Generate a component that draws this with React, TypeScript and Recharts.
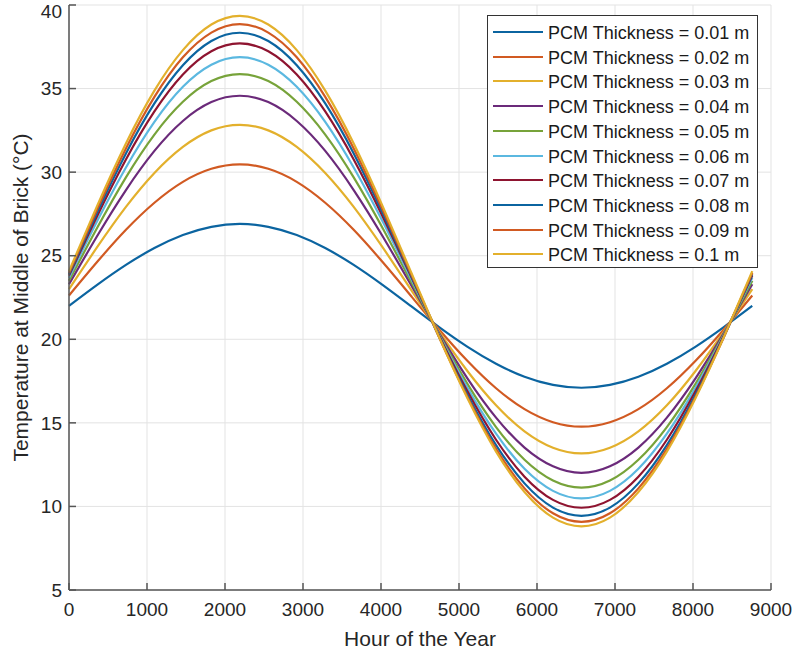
import React from 'react';
import {
  LineChart,
  Line,
  XAxis,
  YAxis,
  CartesianGrid,
} from 'recharts';

// hours sampled along the year (x axis)
const hours = [
  0, 365, 730, 1095, 1460, 1825, 2190, 2555, 2920, 3285, 3650, 4015, 4380,
  4745, 5110, 5475, 5840, 6205, 6570, 6935, 7300, 7665, 8030, 8395, 8760,
];

const thicknesses = ['0.01', '0.02', '0.03', '0.04', '0.05', '0.06', '0.07', '0.08', '0.09', '0.1'];

// temperature, one array per PCM thickness
const t001 = [22.00, 23.27, 24.45, 25.46, 26.24, 26.73, 26.90, 26.73, 26.24, 25.46, 24.45, 23.27, 22.00, 20.73, 19.55, 18.54, 17.76, 17.27, 17.10, 17.27, 17.76, 18.54, 19.55, 20.73, 22.00];
const t002 = [22.62, 24.65, 26.55, 28.17, 29.42, 30.20, 30.47, 30.20, 29.42, 28.17, 26.55, 24.65, 22.62, 20.59, 18.70, 17.07, 15.82, 15.04, 14.77, 15.04, 15.82, 17.07, 18.70, 20.59, 22.62];
const t003 = [23.00, 25.54, 27.92, 29.95, 31.51, 32.50, 32.83, 32.50, 31.51, 29.95, 27.92, 25.54, 23.00, 20.46, 18.09, 16.05, 14.49, 13.51, 13.17, 13.51, 14.49, 16.05, 18.09, 20.46, 23.00];
const t004 = [23.29, 26.21, 28.93, 31.27, 33.06, 34.19, 34.57, 34.19, 33.06, 31.27, 28.93, 26.21, 23.29, 20.37, 17.65, 15.31, 13.52, 12.40, 12.01, 12.40, 13.52, 15.31, 17.65, 20.37, 23.29];
const t005 = [23.50, 26.70, 29.69, 32.25, 34.21, 35.45, 35.87, 35.45, 34.21, 32.25, 29.69, 26.70, 23.50, 20.30, 17.32, 14.75, 12.79, 11.55, 11.13, 11.55, 12.79, 14.75, 17.32, 20.30, 23.50];
const t006 = [23.68, 27.10, 30.28, 33.01, 35.11, 36.43, 36.88, 36.43, 35.11, 33.01, 30.28, 27.10, 23.68, 20.26, 17.08, 14.35, 12.25, 10.93, 10.48, 10.93, 12.25, 14.35, 17.08, 20.26, 23.68];
const t007 = [23.81, 27.41, 30.76, 33.63, 35.84, 37.23, 37.70, 37.23, 35.84, 33.63, 30.76, 27.41, 23.81, 20.22, 16.87, 13.99, 11.78, 10.39, 9.92, 10.39, 11.78, 13.99, 16.87, 20.22, 23.81];
const t008 = [23.89, 27.63, 31.12, 34.11, 36.40, 37.85, 38.34, 37.85, 36.40, 34.11, 31.12, 27.63, 23.89, 20.15, 16.67, 13.67, 11.38, 9.93, 9.44, 9.93, 11.38, 13.67, 16.67, 20.15, 23.89];
const t009 = [23.97, 27.82, 31.42, 34.50, 36.87, 38.35, 38.86, 38.35, 36.87, 34.50, 31.42, 27.82, 23.97, 20.12, 16.53, 13.44, 11.08, 9.59, 9.08, 9.59, 11.08, 13.44, 16.53, 20.12, 23.97];
const t010 = [24.08, 28.03, 31.72, 34.88, 37.30, 38.83, 39.35, 38.83, 37.30, 34.88, 31.72, 28.03, 24.08, 20.13, 16.45, 13.28, 10.86, 9.33, 8.81, 9.33, 10.86, 13.28, 16.45, 20.13, 24.08];

const series = [t001, t002, t003, t004, t005, t006, t007, t008, t009, t010];

const xTicks = [0, 1000, 2000, 3000, 4000, 5000, 6000, 7000, 8000, 9000];
const yTicks = [5, 10, 15, 20, 25, 30, 35, 40];

const colors = [
  '#0b64a0', '#d15a22', '#e3b02c', '#6b2a7a', '#77a33a',
  '#5bb8e0', '#8e1430', '#0b64a0', '#d15a22', '#e3b02c',
];

const data = hours.map((h, i) => {
  const row: Record<string, number> = { hour: h };
  series.forEach((s, k) => {
    row['s' + k] = s[i];
  });
  return row;
});

const FONT = '"Liberation Sans", Arial, Helvetica, sans-serif';

const XLabel = (props: any) => {
  const { viewBox } = props;
  return (
    <text
      x={viewBox.x + viewBox.width / 2}
      y={viewBox.y + 56}
      textAnchor="middle"
      fontSize={21}
      fontFamily={FONT}
      fill="#262626"
    >
      Hour of the Year
    </text>
  );
};

const YLabel = (props: any) => {
  const { viewBox } = props;
  const cx = viewBox.x + 28;
  const cy = viewBox.y + viewBox.height / 2;
  return (
    <text
      x={cx}
      y={cy}
      transform={`rotate(-90, ${cx}, ${cy})`}
      textAnchor="middle"
      fontSize={21}
      fontFamily={FONT}
      fill="#262626"
    >
      Temperature at Middle of Brick (°C)
    </text>
  );
};

export default function App() {
  const rowH = 24.7;
  return (
    <div style={{ position: 'relative', width: 796, height: 650, background: '#fff' }}>
      <style>{`body { margin: 0; }`}</style>
      <LineChart
        width={796}
        height={650}
        data={data}
        margin={{ top: 5, right: 25, bottom: 0, left: 0 }}
      >
        <CartesianGrid stroke="#e3e3e3" strokeWidth={1} />
        <XAxis
          dataKey="hour"
          type="number"
          domain={[0, 9000]}
          ticks={xTicks}
          height={60}
          tickSize={-7}
          tickMargin={20}
          axisLine={{ stroke: '#555', strokeWidth: 1.5 }}
          tickLine={{ stroke: '#555', strokeWidth: 1.5 }}
          tick={{ fontSize: 19, fill: '#262626', fontFamily: FONT }}
          label={<XLabel />}
        />
        <YAxis
          type="number"
          domain={[5, 40]}
          ticks={yTicks}
          width={69}
          tickSize={-7}
          tickMargin={14}
          axisLine={{ stroke: '#555', strokeWidth: 1.5 }}
          tickLine={{ stroke: '#555', strokeWidth: 1.5 }}
          tick={{ fontSize: 19, fill: '#262626', fontFamily: FONT }}
          label={<YLabel />}
        />
        {series.map((_, k) => (
          <Line
            key={k}
            type="natural"
            dataKey={'s' + k}
            stroke={colors[k]}
            strokeWidth={2.2}
            dot={false}
            activeDot={false}
            isAnimationActive={false}
          />
        ))}
      </LineChart>
      <svg
        width={271}
        height={253}
        style={{ position: 'absolute', left: 487, top: 15 }}
      >
        <rect x={0.5} y={0.5} width={270} height={252} fill="#fff" stroke="#333" strokeWidth={1} />
        {thicknesses.map((t, k) => {
          const cy = Math.round(17 + k * rowH);
          return (
            <g key={t}>
              <line x1={6} x2={56} y1={cy} y2={cy} stroke={colors[k]} strokeWidth={2} />
              <text
                x={61}
                y={cy + 6.5}
                fontSize={18}
                fontFamily={FONT}
                fill="#1a1a1a"
              >
                PCM Thickness = {t} m
              </text>
            </g>
          );
        })}
      </svg>
    </div>
  );
}
